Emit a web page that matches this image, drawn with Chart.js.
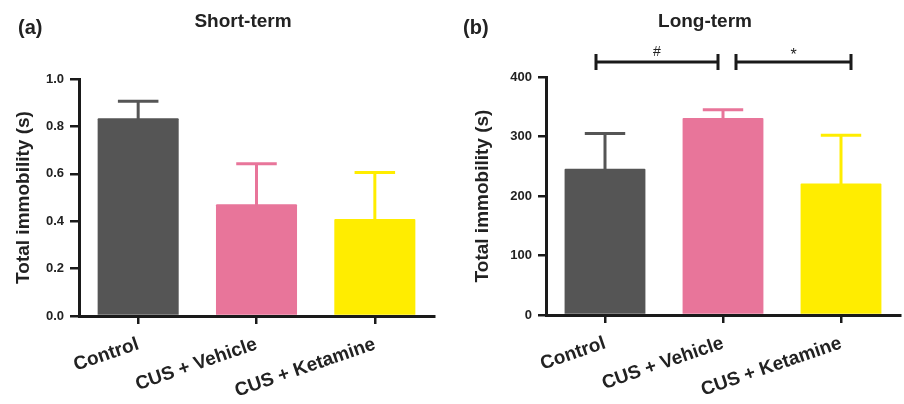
<!DOCTYPE html>
<html>
<head>
<meta charset="utf-8">
<script src="https://cdn.jsdelivr.net/npm/chart.js@4.4.1/dist/chart.umd.min.js"></script>
<style>
  html, body { margin: 0; padding: 0; background: #ffffff; }
  body { width: 904px; height: 404px; position: relative; overflow: hidden; }
  canvas { position: absolute; top: 0; }
  #cA { left: 0; }
  #cB { left: 452px; }
</style>
</head>
<body>
<canvas id="cA" width="452" height="404"></canvas>
<canvas id="cB" width="452" height="404"></canvas>
<script>
// ---- data ----
const categories = ['Control', 'CUS + Vehicle', 'CUS + Ketamine'];
const shortMeans = [0.834, 0.471, 0.409];
const shortUpper = [0.906, 0.642, 0.605];
const longMeans = [246, 331, 221];
const longUpper = [305, 345, 302];
const shortTicks = [0, 0.2, 0.4, 0.6, 0.8, 1.0];
const longTicks = [0, 100, 200, 300, 400];
const sigPairs = [[0, 1, '#'], [1, 2, '*']];
const barColors = ['#555555', '#E8759A', '#FFED00'];

const FONT = '"Liberation Sans", Arial, Helvetica, sans-serif';
const AXIS = '#1a1a1a';

function errorBarPlugin(upper) {
  return {
    id: 'errbars',
    afterDatasetsDraw(chart) {
      const ctx = chart.ctx;
      const meta = chart.getDatasetMeta(0);
      const y = chart.scales.y;
      ctx.save();
      meta.data.forEach((bar, i) => {
        const top = y.getPixelForValue(upper[i]);
        const half = bar.width / 4;
        ctx.strokeStyle = barColors[i];
        ctx.lineWidth = 3;
        ctx.lineCap = 'butt';
        ctx.beginPath();
        ctx.moveTo(bar.x, bar.y + 1);
        ctx.lineTo(bar.x, top);
        ctx.stroke();
        ctx.beginPath();
        ctx.moveTo(bar.x - half, top);
        ctx.lineTo(bar.x + half, top);
        ctx.stroke();
      });
      ctx.restore();
    }
  };
}

function labelPlugin(letter, title, letterX, titleX) {
  return {
    id: 'labels',
    afterDraw(chart) {
      const ctx = chart.ctx;
      ctx.save();
      ctx.fillStyle = '#222';
      ctx.textBaseline = 'alphabetic';
      ctx.font = 'bold 20px ' + FONT;
      ctx.textAlign = 'left';
      ctx.fillText(letter, letterX, 34);
      ctx.font = 'bold 19px ' + FONT;
      ctx.textAlign = 'center';
      ctx.fillText(title, titleX, 27);
      ctx.restore();
    }
  };
}

const bracketPlugin = {
  id: 'brackets',
  afterDraw(chart) {
    const ctx = chart.ctx;
    const x = chart.scales.x;
    const offs = [[-9, -5], [13, 10]];
    const yLine = 62;
    ctx.save();
    ctx.strokeStyle = AXIS;
    ctx.fillStyle = '#222';
    ctx.lineWidth = 3;
    sigPairs.forEach((p, k) => {
      const x1 = x.getPixelForValue(p[0]) + offs[k][0];
      const x2 = x.getPixelForValue(p[1]) + offs[k][1];
      ctx.beginPath();
      ctx.moveTo(x1, yLine); ctx.lineTo(x2, yLine);
      ctx.moveTo(x1, yLine - 8); ctx.lineTo(x1, yLine + 8);
      ctx.moveTo(x2, yLine - 8); ctx.lineTo(x2, yLine + 8);
      ctx.stroke();
      ctx.font = (p[2] === '*' ? '16px ' : '14px ') + FONT;
      ctx.textAlign = 'center';
      ctx.textBaseline = 'alphabetic';
      ctx.fillText(p[2], (x1 + x2) / 2, p[2] === '*' ? 60 : 56);
    });
    ctx.restore();
  }
};

function makeChart(id, means, upper, ticks, opts) {
  return new Chart(document.getElementById(id), {
    type: 'bar',
    data: {
      labels: categories,
      datasets: [{
        data: means,
        backgroundColor: barColors,
        borderWidth: 0,
        borderRadius: 1,
        barPercentage: 0.685,
        categoryPercentage: 1.0
      }]
    },
    options: {
      responsive: false,
      animation: false,
      devicePixelRatio: 1,
      layout: { padding: { left: 0, right: opts.padRight, top: opts.padTop, bottom: 0 } },
      plugins: { legend: { display: false }, tooltip: { enabled: false }, title: { display: false } },
      scales: {
        x: {
          offset: true,
          grid: { display: true, drawOnChartArea: false, drawTicks: true, offset: false, tickLength: 8, color: AXIS, lineWidth: 2.5 },
          border: { display: true, color: AXIS, width: 3 },
          ticks: {
            color: '#222', font: { family: FONT, size: 19, weight: 'bold' },
            minRotation: 19, maxRotation: 19, padding: 9, autoSkip: false
          },
          afterFit(s) { s.height = opts.xHeight; }
        },
        y: {
          min: ticks[0], max: ticks[ticks.length - 1],
          afterBuildTicks(s) { s.ticks = ticks.map(v => ({ value: v })); },
          grid: { display: true, drawOnChartArea: false, drawTicks: true, tickLength: opts.tickLen, color: AXIS, lineWidth: 2.5 },
          border: { display: true, color: AXIS, width: 3 },
          ticks: {
            color: '#222', font: { family: FONT, size: 13, weight: 'bold' },
            padding: opts.tickPad,
            callback: opts.fmt
          },
          title: {
            display: true, text: 'Total immobility (s)', color: '#222',
            font: { family: FONT, size: 19, weight: 'bold' },
            padding: { top: opts.titlePad, bottom: 0 }
          },
          afterFit(s) { s.width = opts.yWidth; }
        }
      }
    },
    plugins: opts.plugins
  });
}

makeChart('cA', shortMeans, shortUpper, shortTicks, {
  padRight: 18, padTop: 79, xHeight: 88, yWidth: 79, tickLen: 9, tickPad: 6, titlePad: 12,
  fmt: v => Number(v).toFixed(1),
  plugins: [errorBarPlugin(shortUpper), labelPlugin('(a)', 'Short-term', 18, 243)]
});

makeChart('cB', longMeans, longUpper, longTicks, {
  padRight: 4, padTop: 77, xHeight: 89, yWidth: 94, tickLen: 8, tickPad: 6, titlePad: 19,
  fmt: v => String(v),
  plugins: [errorBarPlugin(longUpper), bracketPlugin, labelPlugin('(b)', 'Long-term', 11, 253)]
});
</script>
</body>
</html>
